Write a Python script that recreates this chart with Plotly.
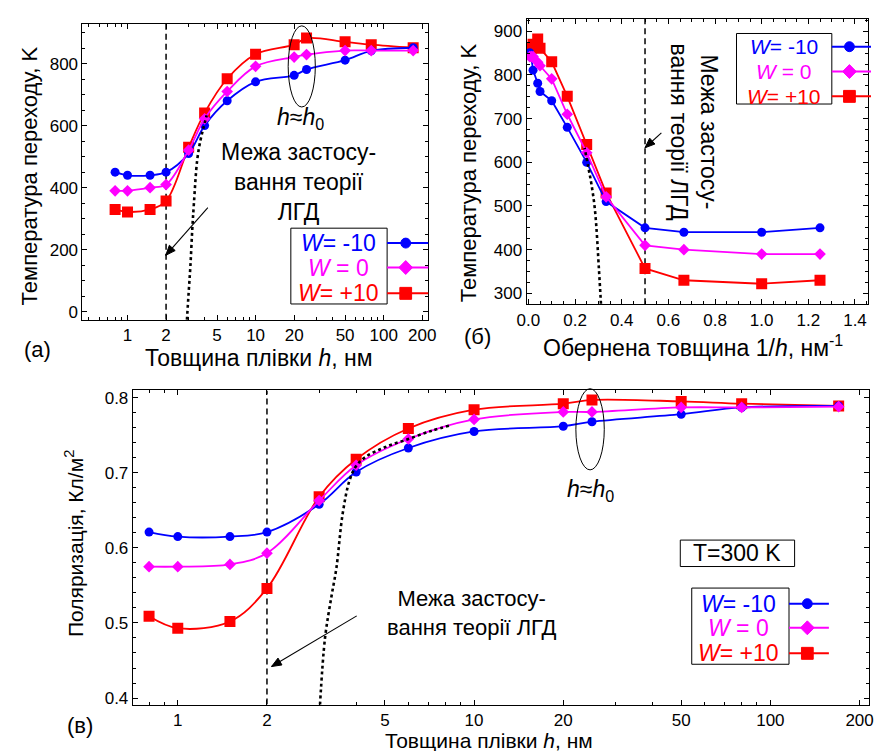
import numpy as np
import plotly.graph_objects as go

W, H = 879, 751
FONT = "Liberation Sans, Arial, sans-serif"

# ---------------- data ----------------
h_nm = [0.8, 1, 1.5, 2, 3, 4, 6, 10, 20, 25, 50, 80, 170]
Tc_w_m10 = [450, 440, 440, 450, 510, 600, 680, 741, 762, 781, 811, 841, 851]
Tc_w_0 = [390, 390, 400, 410, 521, 622, 710, 791, 821, 829, 842, 842, 842]
Tc_w_p10 = [330, 322, 330, 357, 530, 641, 751, 830, 861, 882, 870, 861, 851]

P_w_m10 = [0.621, 0.615, 0.615, 0.621, 0.658, 0.701, 0.733, 0.755, 0.762, 0.768, 0.778, 0.787, 0.789]
P_w_0 = [0.575, 0.575, 0.578, 0.593, 0.663, 0.710, 0.745, 0.771, 0.781, 0.781, 0.787, 0.787, 0.788]
P_w_p10 = [0.509, 0.493, 0.502, 0.546, 0.668, 0.718, 0.759, 0.784, 0.792, 0.797, 0.795, 0.792, 0.789]

# LGD theory curves (dotted)
lgd_h_T = [2.91, 3.0, 3.1, 3.2, 3.3, 3.5, 3.7, 3.9, 4.15]
lgd_T = [-26, 60, 150, 262, 350, 489, 550, 590, 633]
lgd_h_P = [3.02, 3.14, 3.3, 3.43, 3.6, 3.8, 4.0, 4.3, 5.0, 6.0, 7.2, 8.3]
lgd_P = [0.391, 0.48, 0.535, 0.573, 0.645, 0.690, 0.709, 0.721, 0.734, 0.745, 0.756, 0.763]

h_limit = 2          # applicability limit of LGD theory
legend_labels = ["<i>W</i>= -10", "<i>W</i> = 0", "<i>W</i>= +10"]
colors = ["#0000FF", "#FF00FF", "#FF0000"]
symbols = ["circle", "diamond", "square"]
msizes = [9, 9, 11]

inv_h = [1.0 / v for v in h_nm]
inv_lgd = [1.0 / v for v in lgd_h_T]

# ---------------- helpers ----------------
def px(x):
    return x / W


def py(y):
    return 1 - y / H


annotations = []
shapes = []


def text(x, y, s, size, color="black", angle=0, xanchor="center"):
    annotations.append(dict(x=px(x), y=py(y), xref="paper", yref="paper", text=s,
                            showarrow=False, textangle=angle, xanchor=xanchor, yanchor="middle",
                            font=dict(family=FONT, size=size, color=color)))


def arrow(hx, hy, tx, ty):
    shapes.append(dict(type="line", xref="paper", yref="paper", x0=px(tx), y0=py(ty),
                       x1=px(hx), y1=py(hy), line=dict(color="black", width=1.1)))
    dx, dy = hx - tx, hy - ty
    L = (dx * dx + dy * dy) ** 0.5
    ux, uy = dx / L, dy / L
    nx, ny = -uy, ux
    hl, hw = 10, 4
    bx, by = hx - ux * hl, hy - uy * hl
    path = "M {},{} L {},{} L {},{} Z".format(
        px(hx), py(hy), px(bx + nx * hw), py(by + ny * hw), px(bx - nx * hw), py(by - ny * hw))
    shapes.append(dict(type="path", xref="paper", yref="paper", path=path,
                       fillcolor="black", line=dict(color="black", width=1)))


def ellipse(x0, x1, y0, y1):
    shapes.append(dict(type="circle", xref="paper", yref="paper", x0=px(x0), x1=px(x1),
                       y0=py(y1), y1=py(y0), line=dict(color="black", width=1)))


def legend(bx0, bx1, by0, by1, lx1, mx, rows, tcx, size=23):
    shapes.append(dict(type="rect", xref="paper", yref="paper", x0=px(bx0), x1=px(bx1),
                       y0=py(by1), y1=py(by0), line=dict(color="black", width=1),
                       fillcolor="white"))
    for i, ry in enumerate(rows):
        c = colors[i]
        shapes.append(dict(type="line", xref="paper", yref="paper", x0=px(bx1), x1=px(lx1),
                           y0=py(ry), y1=py(ry), line=dict(color=c, width=2)))
        if symbols[i] == "circle":
            r = 5
            shapes.append(dict(type="circle", xref="paper", yref="paper", x0=px(mx - r),
                               x1=px(mx + r), y0=py(ry + r), y1=py(ry - r),
                               fillcolor=c, line=dict(color=c, width=1)))
        elif symbols[i] == "square":
            r = 6
            shapes.append(dict(type="rect", xref="paper", yref="paper", x0=px(mx - r),
                               x1=px(mx + r), y0=py(ry + r), y1=py(ry - r),
                               fillcolor=c, line=dict(color=c, width=1)))
        else:
            r = 7
            path = "M {},{} L {},{} L {},{} L {},{} Z".format(
                px(mx), py(ry - r), px(mx + r), py(ry), px(mx), py(ry + r), px(mx - r), py(ry))
            shapes.append(dict(type="path", xref="paper", yref="paper", path=path,
                               fillcolor=c, line=dict(color=c, width=1)))
        text(tcx, ry, legend_labels[i], size, color=c)


# ---------------- figure ----------------
fig = go.Figure()


def series(x, ys, xa, ya, shape):
    order = [2, 0, 1]
    for i in order:
        fig.add_trace(go.Scatter(x=x, y=ys[i], xaxis=xa, yaxis=ya, mode="lines+markers",
                                 line=dict(color=colors[i], width=1.8, shape=shape,
                                           smoothing=1.0),
                                 marker=dict(symbol=symbols[i], size=msizes[i], color=colors[i],
                                             line=dict(width=0)),
                                 showlegend=False))


dash_line = dict(color="black", width=1.5, dash="6px,4px")

# (a)
fig.add_trace(go.Scatter(x=[h_limit, h_limit], y=[-26, 928], xaxis="x", yaxis="y", mode="lines",
                         line=dash_line, showlegend=False))
series(h_nm, [Tc_w_m10, Tc_w_0, Tc_w_p10], "x", "y", "spline")
fig.add_trace(go.Scatter(x=lgd_h_T, y=lgd_T, xaxis="x", yaxis="y", mode="lines",
                         line=dict(color="black", width=2.6, dash="dot", shape="spline"),
                         showlegend=False))
# (b)
fig.add_trace(go.Scatter(x=[1 / h_limit, 1 / h_limit], y=[275, 929], xaxis="x2", yaxis="y2",
                         mode="lines", line=dash_line, showlegend=False))
series(inv_h, [Tc_w_m10, Tc_w_0, Tc_w_p10], "x2", "y2", "linear")
fig.add_trace(go.Scatter(x=inv_lgd, y=lgd_T, xaxis="x2", yaxis="y2", mode="lines",
                         line=dict(color="black", width=2.6, dash="dot", shape="spline"),
                         showlegend=False))
# (c)
fig.add_trace(go.Scatter(x=[h_limit, h_limit], y=[0.3913, 0.8097], xaxis="x3", yaxis="y3",
                         mode="lines", line=dash_line, showlegend=False))
series(h_nm, [P_w_m10, P_w_0, P_w_p10], "x3", "y3", "spline")
fig.add_trace(go.Scatter(x=lgd_h_P, y=lgd_P, xaxis="x3", yaxis="y3", mode="lines",
                         line=dict(color="black", width=2.6, dash="dot", shape="spline"),
                         showlegend=False))

log_major = [1, 2, 5, 10, 20, 50, 100, 200]
log_minor = [0.5, 0.6, 0.7, 0.8, 0.9, 3, 4, 6, 7, 8, 9, 30, 40, 60, 70, 80, 90]

common = dict(showgrid=False, zeroline=False, showline=True, linecolor="black", linewidth=1,
              mirror="ticks", ticks="inside", ticklen=5, tickcolor="black", tickwidth=1,
              tickfont=dict(family=FONT, size=17, color="black"))


def logaxis(domain, rng, anchor):
    d = dict(common)
    d.update(type="log", domain=domain, range=rng, anchor=anchor, tickvals=log_major,
             ticktext=[str(v) for v in log_major],
             minor=dict(tickvals=log_minor, ticks="inside", ticklen=3, tickcolor="black"))
    return d


def linaxis(domain, rng, anchor, dtick, mdtick, fmt=None):
    d = dict(common)
    d.update(domain=domain, range=rng, anchor=anchor, dtick=dtick, tick0=0,
             minor=dict(dtick=mdtick, ticks="inside", ticklen=3, tickcolor="black"))
    if fmt:
        d["tickformat"] = fmt
    return d


fig.update_layout(
    width=W, height=H, autosize=False,
    margin=dict(l=0, r=0, t=0, b=0),
    paper_bgcolor="white", plot_bgcolor="white",
    font=dict(family=FONT, color="black"),
    xaxis=logaxis([px(74), px(427)], [np.log10(0.445), np.log10(223)], "y"),
    yaxis=linaxis([py(320), py(22)], [-26, 928], "x", 200, 50),
    xaxis2=linaxis([px(527.3), px(876)], [-0.008, 1.456], "y2", 0.2, 0.05, ".1f"),
    yaxis2=linaxis([py(304.3), py(16.7)], [275, 929], "x2", 100, 25),
    xaxis3=logaxis([px(125.3), px(876.7)], [-0.152, 2.332], "y3"),
    yaxis3=linaxis([py(707.3), py(391)], [0.3913, 0.8097], "x3", 0.1, 0.02, ".1f"),
)

# axis titles & panel labels
text(20, 175, "Температура переходу, K", 22, angle=-90)
text(254, 358, "Товщина плівки <i>h</i>, нм", 23)
text(28, 350, "(а)", 22)
text(468, 172, "Температура переходу, K", 22, angle=-90)
text(697, 346, "Обернена товщина 1/<i>h</i>, нм<sup>-1</sup>", 23)
text(477, 337, "(б)", 22)
text(66, 545, "Поляризація, Кл/м<sup>2</sup>", 21, angle=-90)
text(489, 743, "Товщина плівки <i>h</i>, нм", 21)
text(71, 728, "(в)", 22)

# panel (a) decorations
text(295, 181, "Межа застосу-<br>вання теорії<br>ЛГД", 23)
arrow(159, 255, 202, 207)
ellipse(284, 311.7, 24, 105.7)
text(297, 117, "<i>h</i>≈<i>h</i><sub>0</sub>", 23)
legend(286.7, 385, 227.7, 304, 427, 404, [242.7, 267.3, 293.3], 335)

# panel (b) decorations
text(698, 131, "Межа застосу-<br>вання теорії ЛГД", 23, angle=90)
arrow(648.3, 146.7, 665, 131.7)
legend(741.7, 839, 31.7, 102.7, 879, 857, [45, 70, 95], 790, size=21)

# panel (c) decorations
text(471.5, 615, "Межа застосу-<br>вання теорії ЛГД", 22)
arrow(267, 669, 354, 618)
ellipse(577.7, 606.7, 389.3, 471)
text(593, 492, "<i>h</i>≈<i>h</i><sub>0</sub>", 23)
shapes.append(dict(type="rect", xref="paper", yref="paper", x0=px(684.3), x1=px(801),
                   y0=py(568.3), y1=py(541.7), line=dict(color="black", width=1),
                   fillcolor="white"))
text(742.7, 555, "T=300 K", 23)
legend(696, 795.3, 590, 666.7, 836, 814, [605.7, 630, 655.7], 744)

fig.update_layout(annotations=annotations, shapes=shapes)
fig.write_html("out.html")
